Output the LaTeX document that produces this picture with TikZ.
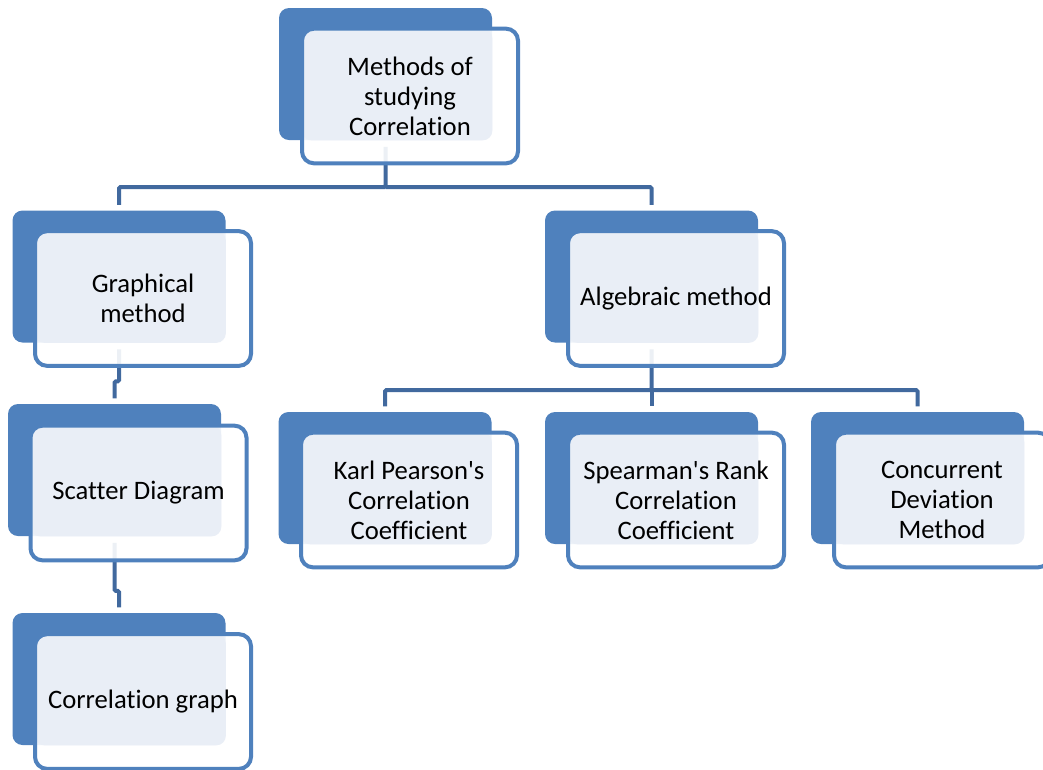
\documentclass[tikz,border=0pt]{standalone}
\usepackage{fontspec}
\setmainfont[Ligatures={NoCommon}]{Carlito}
\usetikzlibrary{backgrounds}
\definecolor{bleu}{HTML}{4F81BD}
\definecolor{clair}{HTML}{E9EEF6}
\definecolor{trait}{HTML}{41699E}
\tikzstyle{dos} = [rectangle, rounded corners=7.5pt, fill=bleu, minimum width=159.75pt, minimum height=99pt, inner sep=0pt]
\tikzstyle{lien} = [draw=trait, line width=3pt, rounded corners=1pt]
\tikzset{face/.style={rectangle, rounded corners=9pt, draw=bleu, line width=3pt, fill=white, fill opacity=0.9, text opacity=1,
    minimum width=162pt, minimum height=101pt, inner sep=0pt, align=center, font=\fontsize{20}{22.5}\selectfont,
    path picture={\fill[clair, fill opacity=1, rounded corners=7pt] (path picture bounding box.north west) rectangle (#1.south east);}}}

\begin{document}
\begin{tikzpicture}[x=0.75pt, y=-0.75pt]
    \useasboundingbox (0,0) rectangle (1043,769);

        \node (fmethodes) [dos] at (385.5,74) {};
        \node (methodes) [face=fmethodes] at (410,96) {Methods of\\studying\\Correlation};

        \node (fgraphique) [dos] at (119,276.5) {};
        \node (graphique) [face=fgraphique] at (143,298.5) {Graphical\\method};
        \node (fnuage) [dos] at (114.5,470) {};
        \node (nuage) [face=fnuage] at (138.5,493) {Scatter Diagram};
        \node (fcourbe) [dos] at (119,679) {};
        \node (courbe) [face=fcourbe] at (143,701.5) {Correlation graph};

        \node (falgebrique) [dos] at (651.5,276.5) {};
        \node (algebrique) [face=falgebrique] at (676,298.5) {Algebraic method};
        \node (fpearson) [dos] at (385,478) {};
        \node (pearson) [face=fpearson] at (409,500) {Karl Pearson\textquotesingle s\\Correlation\\Coefficient};
        \node (fspearman) [dos] at (651.5,478) {};
        \node (spearman) [face=fspearman] at (676,500) {Spearman\textquotesingle s Rank\\Correlation\\Coefficient};
        \node (fconcordance) [dos] at (917.5,478) {};
        \node (concordance) [face=fconcordance] at (942,500) {Concurrent\\Deviation\\Method};

        \coordinate (j1) at (385.5,187);
        \coordinate (j2) at (651.5,390);

        \begin{pgfonlayer}{background}
        \draw[lien] ([yshift=-5pt]fmethodes.south) -- (j1) -| ([yshift=4pt]fgraphique.north);
        \draw[lien] (j1) -| ([yshift=4pt]falgebrique.north);
        \draw[lien] ([yshift=-5pt]fgraphique.south) -- ++(0,32) -| ([yshift=4pt]fnuage.north);
        \draw[lien] ([yshift=-5pt]fnuage.south) -- ++(0,48) -| ([yshift=4pt]fcourbe.north);
        \draw[lien] ([yshift=-5pt]falgebrique.south) -- (j2) -| ([yshift=4pt]fpearson.north);
        \draw[lien] (j2) -| ([yshift=4pt]fspearman.north);
        \draw[lien] (j2) -| ([yshift=4pt]fconcordance.north);
        \end{pgfonlayer}

    \end{tikzpicture}
\end{document}
